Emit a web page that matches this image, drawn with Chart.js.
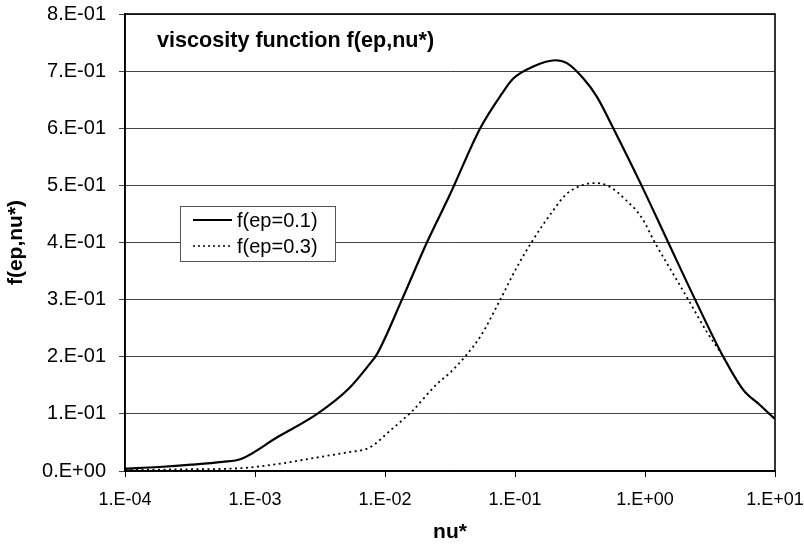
<!DOCTYPE html>
<html>
<head>
<meta charset="utf-8">
<script src="https://cdn.jsdelivr.net/npm/chart.js@4.4.1/dist/chart.umd.min.js"></script>
<style>
  html, body { margin: 0; padding: 0; background: #ffffff; }
  #c { display: block; }
</style>
</head>
<body>
<canvas id="c" width="804" height="545"></canvas>
<script>
// ---- data ----
const chartTitle = 'viscosity function f(ep,nu*)';
const xAxisTitle = 'nu*';
const yAxisTitle = 'f(ep,nu*)';
const seriesLabels = ['f(ep=0.1)', 'f(ep=0.3)'];

const xTickValues = [1e-4, 1e-3, 1e-2, 1e-1, 1e0, 1e1];
const xTickLabels = ['1.E-04', '1.E-03', '1.E-02', '1.E-01', '1.E+00', '1.E+01'];
const yTickLabels = ['0.E+00', '1.E-01', '2.E-01', '3.E-01', '4.E-01', '5.E-01', '6.E-01', '7.E-01', '8.E-01'];

const nuEp01 = [1.0e-4, 1.82e-4, 3.24e-4, 5.6e-4, 7.8e-4, 1.48e-3, 3.05e-3, 5.25e-3, 7.6e-3, 8.7e-3,
                1.35e-2, 2.1e-2, 3.16e-2, 5.4e-2, 7.9e-2, 9.7e-2, 0.138, 0.204, 0.251, 0.336,
                0.427, 0.57, 0.94, 1.51, 2.43, 4.0, 5.7, 7.7, 10];
const fEp01  = [0.004, 0.007, 0.011, 0.016, 0.021, 0.059, 0.101, 0.144, 0.187, 0.205,
                0.300, 0.400, 0.484, 0.600, 0.660, 0.687, 0.708, 0.719, 0.714, 0.687,
                0.655, 0.600, 0.500, 0.400, 0.300, 0.200, 0.142, 0.115, 0.091];

const nuEp03 = [1.0e-4, 3.16e-4, 7.8e-4, 1.48e-3, 3.05e-3, 5.25e-3, 7.6e-3, 1.1e-2, 1.62e-2, 2.5e-2,
                3.16e-2, 4.12e-2, 5.5e-2, 7.7e-2, 0.103, 0.138, 0.191, 0.249, 0.336, 0.412,
                0.522, 0.723, 0.94, 1.19, 1.6, 2.15, 2.98, 4.0, 4.8, 5.7,
                7.7, 10];
const fEp03  = [0.002, 0.003, 0.005, 0.012, 0.024, 0.033, 0.041, 0.071, 0.105, 0.152,
                0.172, 0.200, 0.238, 0.300, 0.356, 0.405, 0.452, 0.485, 0.501, 0.504,
                0.499, 0.473, 0.444, 0.400, 0.350, 0.300, 0.244, 0.200, 0.168, 0.142,
                0.115, 0.091];

const toPoints = (xs, ys) => xs.map((x, i) => ({ x: x, y: ys[i] }));

const FONT = '"Liberation Sans", Arial, Helvetica, sans-serif';

// ---- plugins: plot frame, in-plot title, legend box ----
const framePlugin = {
  id: 'frame',
  afterDatasetsDraw(chart) {
    const { ctx, chartArea: a } = chart;
    ctx.save();
    ctx.strokeStyle = '#000';
    ctx.lineWidth = 1.6;
    ctx.strokeRect(a.left, a.top, a.right - a.left, a.bottom - a.top);
    ctx.restore();
  }
};

const innerTitlePlugin = {
  id: 'innerTitle',
  afterDatasetsDraw(chart) {
    const { ctx, chartArea: a } = chart;
    ctx.save();
    ctx.fillStyle = '#000';
    ctx.font = 'bold 21.6px ' + FONT;
    ctx.textAlign = 'left';
    ctx.textBaseline = 'alphabetic';
    ctx.fillText(chartTitle, a.left + 32, a.top + 33);
    ctx.restore();
  }
};

const legendBoxPlugin = {
  id: 'legendBox',
  afterDatasetsDraw(chart) {
    const { ctx, chartArea: a } = chart;
    const bx = a.left + 55, by = a.top + 192, bw = 155, bh = 55;
    ctx.save();
    ctx.fillStyle = '#fff';
    ctx.fillRect(bx, by, bw, bh);
    ctx.strokeStyle = '#555';
    ctx.lineWidth = 1;
    ctx.strokeRect(bx + 0.5, by + 0.5, bw, bh);
    ctx.font = '20px ' + FONT;
    ctx.fillStyle = '#000';
    ctx.textAlign = 'left';
    ctx.textBaseline = 'middle';
    chart.data.datasets.forEach((ds, i) => {
      const cy = by + 14 + i * 26;
      ctx.beginPath();
      ctx.strokeStyle = '#000';
      ctx.lineWidth = i === 0 ? 2 : 1.6;
      ctx.setLineDash(i === 0 ? [] : [2, 3]);
      ctx.moveTo(bx + 13, cy);
      ctx.lineTo(bx + 52, cy);
      ctx.stroke();
      ctx.setLineDash([]);
      ctx.fillText(ds.label, bx + 57, cy + 1);
    });
    ctx.restore();
  }
};

new Chart(document.getElementById('c'), {
  type: 'line',
  data: {
    datasets: [
      {
        label: seriesLabels[0],
        data: toPoints(nuEp01, fEp01),
        borderColor: '#000',
        borderWidth: 2.2,
        pointRadius: 0,
        fill: false,
        cubicInterpolationMode: 'monotone'
      },
      {
        label: seriesLabels[1],
        data: toPoints(nuEp03, fEp03),
        borderColor: '#000',
        borderWidth: 1.8,
        borderDash: [2, 3.5],
        pointRadius: 0,
        fill: false,
        cubicInterpolationMode: 'monotone'
      }
    ]
  },
  options: {
    responsive: false,
    animation: false,
    devicePixelRatio: 1,
    layout: { padding: { top: 14, right: 29, left: 0, bottom: 0 } },
    plugins: {
      legend: { display: false },
      title: { display: false },
      tooltip: { enabled: false }
    },
    scales: {
      x: {
        type: 'logarithmic',
        min: xTickValues[0],
        max: xTickValues[xTickValues.length - 1],
        afterBuildTicks(scale) {
          scale.ticks = xTickValues.map(v => ({ value: v, major: true }));
        },
        afterFit(scale) {
          scale.height = 74;
          scale.paddingLeft = 0;
          scale.paddingRight = 0;
        },
        ticks: {
          autoSkip: false,
          maxRotation: 0,
          minRotation: 0,
          padding: 12,
          color: '#000',
          font: { family: FONT, size: 18 },
          callback: (value, index) => xTickLabels[index]
        },
        grid: {
          drawOnChartArea: false,
          drawTicks: true,
          tickLength: 6,
          color: '#000'
        },
        border: { display: true, color: '#000', width: 1.6 },
        title: {
          display: true,
          text: xAxisTitle,
          color: '#000',
          font: { family: FONT, size: 21, weight: 'bold', lineHeight: 1.2 },
          padding: { top: 0, bottom: 0 }
        }
      },
      y: {
        type: 'linear',
        min: 0,
        max: 0.8,
        afterBuildTicks(scale) {
          scale.ticks = yTickLabels.map((_, i) => ({ value: i / 10 }));
        },
        afterFit(scale) {
          scale.width = 125;
          scale.paddingTop = 0;
          scale.paddingBottom = 0;
        },
        ticks: {
          autoSkip: false,
          padding: 13,
          color: '#000',
          font: { family: FONT, size: 20 },
          callback: (value, index) => yTickLabels[index]
        },
        grid: {
          drawOnChartArea: true,
          drawTicks: true,
          tickLength: 6,
          color: '#444',
          lineWidth: 1
        },
        border: { display: true, color: '#000', width: 1.6 },
        title: {
          display: true,
          text: yAxisTitle,
          color: '#000',
          font: { family: FONT, size: 21, weight: 'bold', lineHeight: 1.2 },
          padding: { top: 4, bottom: 0 }
        }
      }
    }
  },
  plugins: [framePlugin, innerTitlePlugin, legendBoxPlugin]
});
</script>
</body>
</html>
